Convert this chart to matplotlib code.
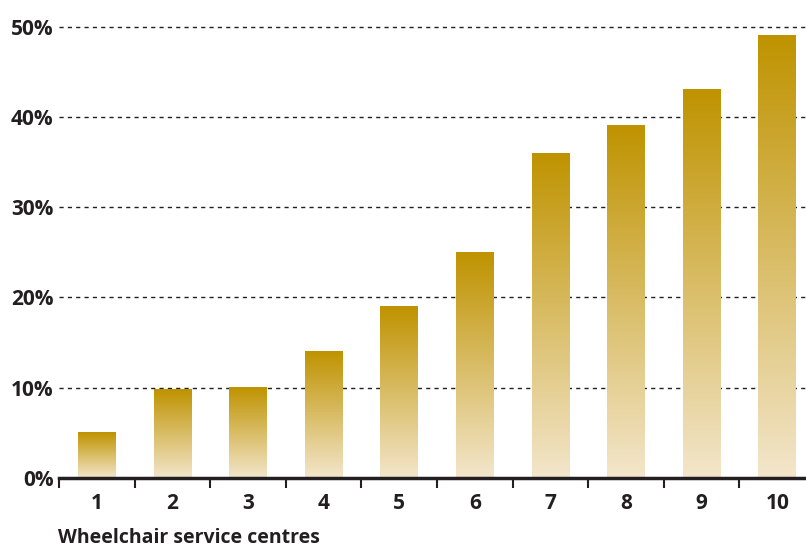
import numpy as np
import matplotlib.pyplot as plt
from matplotlib.colors import LinearSegmentedColormap

# share (%) by wheelchair service centre
centres = ['1', '2', '3', '4', '5', '6', '7', '8', '9', '10']
values = [5, 9.8, 10, 14, 19, 25, 36, 39, 43, 49]
yticks = [0, 10, 20, 30, 40, 50]

plt.rcParams['font.family'] = ['Open Sans', 'DejaVu Sans']
ink = '#231f20'

fig = plt.figure(figsize=(8.06, 5.48), dpi=100)
ax = fig.add_axes([59 / 806, 1 - 478 / 548, 1 - 59 / 806, (478 - 24) / 548])

cmap = LinearSegmentedColormap.from_list('gold', ['#f3e6cb', '#bf9300'])
grad = np.linspace(0, 1, 256).reshape(-1, 1)
x = np.arange(1, len(values) + 1)
w = 0.5
for xi, v in zip(x, values):
    ax.imshow(grad, cmap=cmap, origin='lower', aspect='auto',
              extent=[xi - w / 2, xi + w / 2, 0, v], zorder=3)

for t in yticks[1:]:
    ax.axhline(t, color=ink, lw=1, ls=(0, (3, 3)), zorder=1)

ax.set_yticks(yticks)
ax.set_yticklabels([f'{t}%' for t in yticks], fontsize=15, fontweight='bold', color=ink)
ax.tick_params(axis='y', length=0, pad=4)

ax.set_xticks(x)
ax.set_xticklabels(centres, fontsize=15, fontweight='bold', color=ink)
ax.set_xticks(np.arange(0.5, 11, 1), minor=True)
ax.tick_params(axis='x', which='major', length=0, pad=11)
ax.tick_params(axis='x', which='minor', length=7, width=1.5, color=ink)

# ticks expand the view, so limits go last
ax.set_xlim(0.5, 10.38)
ax.set_ylim(0, 50.3)

for s in ['top', 'right', 'left']:
    ax.spines[s].set_visible(False)
ax.spines['bottom'].set_linewidth(2.5)
ax.spines['bottom'].set_color(ink)
ax.spines['bottom'].set_zorder(4)

fig.text(58 / 806, 1 - 543 / 548, 'Wheelchair service centres', fontsize=14,
         fontweight='bold', color=ink, ha='left', va='baseline')

fig.savefig('out.png', dpi=100)
